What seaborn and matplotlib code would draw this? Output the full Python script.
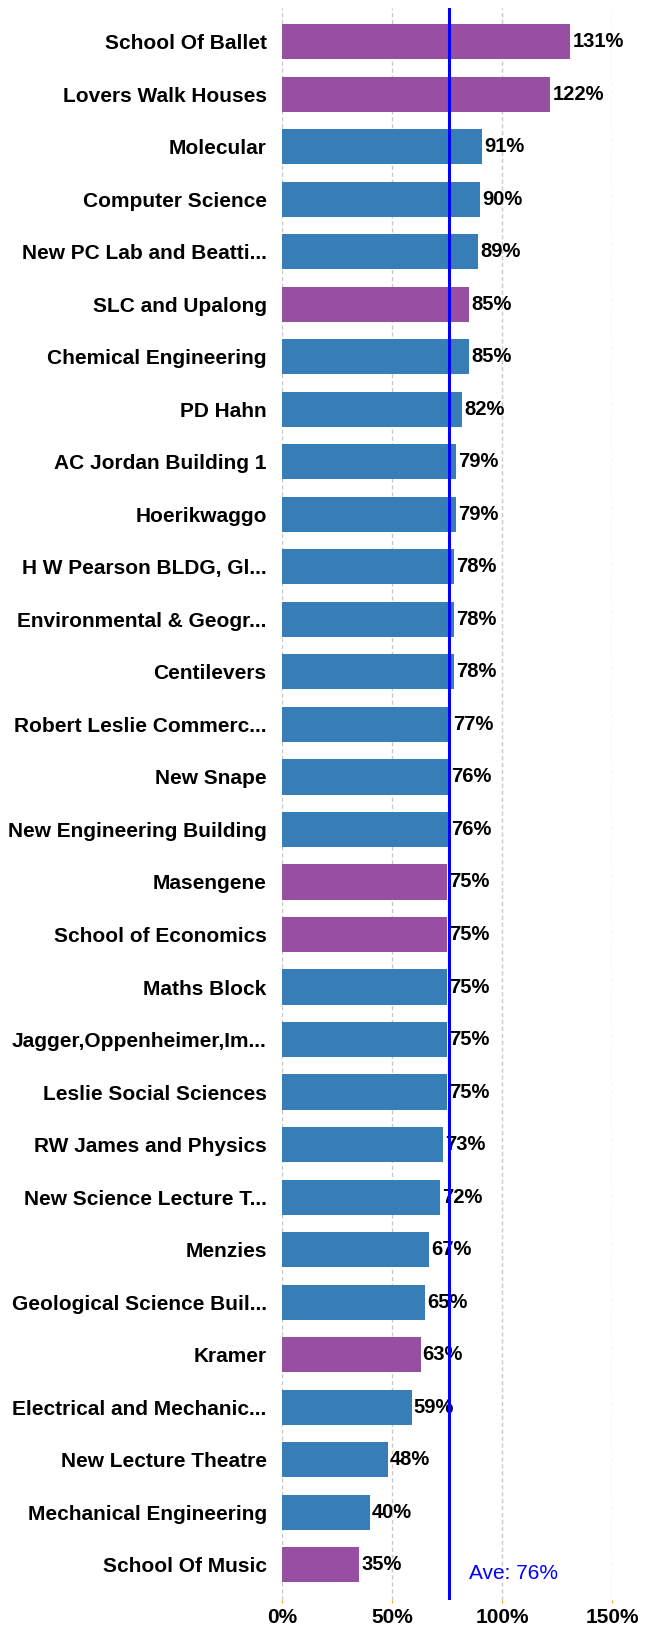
import matplotlib
matplotlib.use("Agg")
import matplotlib.pyplot as plt
import pandas as pd
import seaborn as sns

# buildings, utilisation (%) and type
buildings = [
    "School Of Ballet", "Lovers Walk Houses", "Molecular", "Computer Science",
    "New PC Lab and Beatti...", "SLC and Upalong", "Chemical Engineering", "PD Hahn",
    "AC Jordan Building 1", "Hoerikwaggo", "H W Pearson BLDG, Gl...",
    "Environmental & Geogr...", "Centilevers", "Robert Leslie Commerc...", "New Snape",
    "New Engineering Building", "Masengene", "School of Economics", "Maths Block",
    "Jagger,Oppenheimer,Im...", "Leslie Social Sciences", "RW James and Physics",
    "New Science Lecture T...", "Menzies", "Geological Science Buil...", "Kramer",
    "Electrical and Mechanic...", "New Lecture Theatre", "Mechanical Engineering",
    "School Of Music",
]
values = [131, 122, 91, 90, 89, 85, 85, 82, 79, 79, 78, 78, 78, 77, 76,
          76, 75, 75, 75, 75, 75, 73, 72, 67, 65, 63, 59, 48, 40, 35]
purple_set = ["School Of Ballet", "Lovers Walk Houses", "SLC and Upalong",
              "Masengene", "School of Economics", "Kramer", "School Of Music"]
average = 76
x_ticks = [0, 50, 100, 150]

df = pd.DataFrame({"building": buildings, "value": values})
df["group"] = ["res" if b in purple_set else "acad" for b in df["building"]]

plt.rcParams["font.family"] = ["Liberation Sans", "DejaVu Sans"]

fig = plt.figure(figsize=(6.5, 16.27), dpi=100)
ax = fig.add_axes([282 / 650, 27 / 1627, 330 / 650, 1592 / 1627])

sns.barplot(data=df, y="building", x="value", hue="group",
            palette={"res": "#984EA3", "acad": "#377EB8"},
            dodge=False, width=0.67, legend=False, ax=ax, zorder=2,
            saturation=1)

for i, v in enumerate(df["value"]):
    ax.annotate(f"{v}%", xy=(v, i), xytext=(1.5, 0), textcoords="offset points",
                va="center", ha="left", fontsize=14.5, fontweight="bold", zorder=3)

ax.axvline(average, color="#0000ff", lw=2.2, zorder=4)
ax.annotate(f"Ave: {average}%", xy=(average, len(buildings) - 1),
            xytext=(14, -6), textcoords="offset points",
            color="#0000ff", fontsize=15, va="center", ha="left")

ax.set_xlim(0, 150)
ax.set_ylim(len(buildings) - 0.33, -0.64)
ax.set_xticks(x_ticks)
ax.set_xticklabels([f"{t}%" for t in x_ticks], fontsize=15, fontweight="bold")
ax.tick_params(axis="x", length=2, color="#f5a623", pad=4)
ax.tick_params(axis="y", length=0, pad=11, labelsize=15)
for lab in ax.get_yticklabels():
    lab.set_fontweight("bold")

ax.grid(axis="x", color="#c8c8c8", linestyle=(0, (3, 2)), lw=1, zorder=0)
ax.set_axisbelow(True)
for s in ax.spines.values():
    s.set_visible(False)
ax.set_xlabel("")
ax.set_ylabel("")

fig.savefig("out.png", dpi=100)
